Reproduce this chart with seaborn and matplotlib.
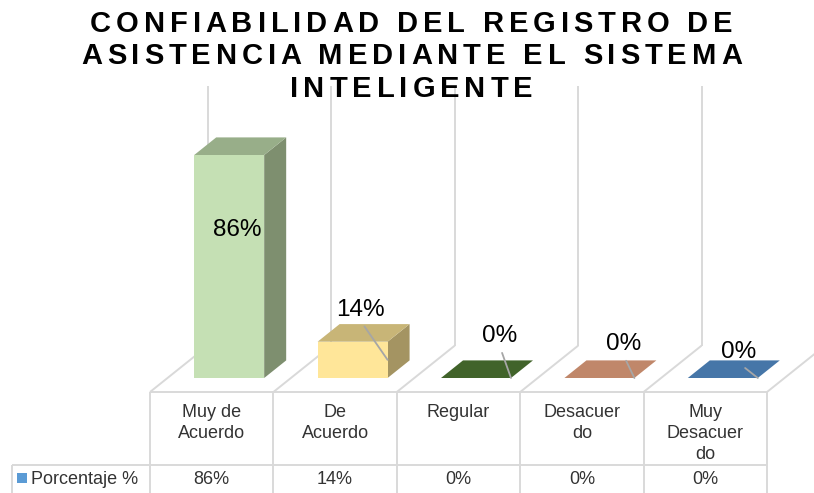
import matplotlib
matplotlib.use("Agg")
import matplotlib.pyplot as plt
import seaborn as sns
from matplotlib.patches import Polygon, Rectangle
from matplotlib.lines import Line2D
from matplotlib.transforms import IdentityTransform, offset_copy
from matplotlib.font_manager import FontProperties

# data
categories = ["Muy de Acuerdo", "De Acuerdo", "Regular", "Desacuerdo", "Muy Desacuerdo"]
values = [86, 14, 0, 0, 0]
value_labels = ["86%", "14%", "0%", "0%", "0%"]
table_headers = ["Muy de\nAcuerdo", "De\nAcuerdo", "Regular", "Desacuer\ndo", "Muy\nDesacuer\ndo"]
series_name = "Porcentaje %"
title_lines = ["CONFIABILIDAD DEL REGISTRO DE",
               "ASISTENCIA MEDIANTE EL SISTEMA",
               "INTELIGENTE"]

# colours of the 3D faces
front_colors = ["#C5E0B4", "#FFE699", "#4E7A30", "#E0A07E", "#5588BE"]
top_colors = ["#98AE89", "#C8B577", "#41632A", "#C0876A", "#4676A8"]
side_colors = ["#7E8F6F", "#A49462", "#2F4A1D", "#9C6A50", "#355A80"]

# label placement (pixel offsets from the leader end point); first one sits inside the bar
label_offsets = [None, (-27, 50), (-11, 42), (-11, 34), (-19, 26)]

W, H, DPI = 814, 493, 100
RATIO = 0.8        # depth direction dy/dx
FRONT_DX = 17.5    # bar front plane behind table edge
BAR_DX = 22        # bar depth
FLOOR_DX = 58      # floor depth
WALL_TOP = H - 86
GRID = "#D9D9D9"
TXT = "#333333"

sns.set_theme(style="white")
plt.rcParams["font.family"] = ["Liberation Sans", "DejaVu Sans"]

fig = plt.figure(figsize=(W / DPI, H / DPI), dpi=DPI)
fig.patch.set_facecolor("white")
ax = fig.add_axes([167.5 / W, 115 / H, 617 / W, 259.3 / H])
ax.set_zorder(3)

sns.barplot(x=categories, y=values, hue=categories, palette=front_colors, legend=False,
            saturation=1, width=0.567, ax=ax, edgecolor="none", linewidth=0, zorder=2)
ax.set_xlim(-0.5, len(categories) - 0.5)
ax.set_ylim(0, 100)
ax.set_axis_off()

ident = IdentityTransform()


def add_line(xs, ys, color=GRID, lw=1.4, z=-2):
    fig.add_artist(Line2D(xs, ys, color=color, lw=lw, transform=ident, zorder=z,
                          solid_capstyle="butt"))


# floor, back wall dividers and the data table grid
y_base = ax.transData.transform((0, 0))[1]
y_front = y_base - FRONT_DX * RATIO
bounds = [ax.transData.transform((k - 0.5, 0))[0] - FRONT_DX for k in range(len(categories) + 1)]
for b in bounds:
    bx, by = b + FLOOR_DX, y_front + FLOOR_DX * RATIO
    add_line([b, bx], [y_front, by])
    add_line([bx, bx], [by, WALL_TOP])
    add_line([b, b], [y_front, 0], z=1)
add_line([bounds[0], bounds[-1]], [y_front, y_front], z=1)
row_y = H - 464.5
add_line([12, bounds[-1]], [row_y, row_y], z=1)
add_line([12, 12], [row_y, 0], z=1)

# 3D faces of the bars
bars = sorted(ax.patches, key=lambda p: p.get_x())
dx, dy = BAR_DX, BAR_DX * RATIO
for i, p in enumerate(bars):
    x0, x1, h = p.get_x(), p.get_x() + p.get_width(), p.get_height()
    X0, Y0 = ax.transData.transform((x0, 0))
    X1, Yh = ax.transData.transform((x1, h))
    if h > 0:
        side = [(X1, Y0), (X1 + dx, Y0 + dy), (X1 + dx, Yh + dy), (X1, Yh)]
        fig.add_artist(Polygon(side, closed=True, facecolor=side_colors[i], edgecolor="none",
                               transform=ident, zorder=1))
    top = [(X0, Yh), (X1, Yh), (X1 + dx, Yh + dy), (X0 + dx, Yh + dy)]
    fig.add_artist(Polygon(top, closed=True, facecolor=top_colors[i], edgecolor="none",
                           transform=ident, zorder=1))

# data labels
for i, p in enumerate(bars):
    h = p.get_height()
    if label_offsets[i] is None:
        tr = offset_copy(ax.transData, fig=fig, x=8, y=0, units="dots")
        ax.text(i, h * 0.664, value_labels[i], ha="center", va="center", fontsize=17.5,
                color="black", transform=tr, zorder=5)
    else:
        ax.annotate(value_labels[i], xy=(p.get_x() + p.get_width(), h / 2),
                    xytext=label_offsets[i], textcoords="offset pixels",
                    ha="center", va="center", fontsize=17.5, color="black",
                    arrowprops=dict(arrowstyle="-", color="#A6A6A6", lw=1.3,
                                    relpos=(0.5, 0), shrinkA=2, shrinkB=0),
                    zorder=5)

# table text
centers = [ax.transData.transform((i, 0))[0] - FRONT_DX for i in range(len(categories))]
for i, c in enumerate(centers):
    fig.text(c / W, (H - 404) / H, table_headers[i], ha="center", va="top", fontsize=13,
             color=TXT, linespacing=1.3)
    fig.text(c / W, (H - 479.5) / H, value_labels[i], ha="center", va="center", fontsize=13,
             color=TXT)
fig.add_artist(Rectangle((17, H - 483), 10, 10, facecolor="#5B9BD5", edgecolor="none",
                         transform=ident))
fig.text(31 / W, (H - 479.5) / H, series_name, ha="left", va="center", fontsize=13, color=TXT)

# title with letter spacing
renderer = fig.canvas.get_renderer()
fp = FontProperties(family="Liberation Sans", weight="bold", size=21)
spacing = 4.9


def text_w(s):
    return renderer.get_text_width_height_descent(s, fp, ismath=False)[0]


bar_w = text_w("|")
for line, base in zip(title_lines, [32, 64.5, 97]):
    offs = [text_w(line[:k] + "|") - bar_w + k * spacing for k in range(len(line))]
    total = text_w(line + "|") - bar_w + (len(line) - 1) * spacing
    start = 411.5 - total / 2
    for ch, o in zip(line, offs):
        if ch == " ":
            continue
        fig.text((start + o) / W, (H - base) / H, ch, fontproperties=fp, color="black",
                 ha="left", va="baseline")

fig.savefig("out.png", dpi=DPI, facecolor="white")
